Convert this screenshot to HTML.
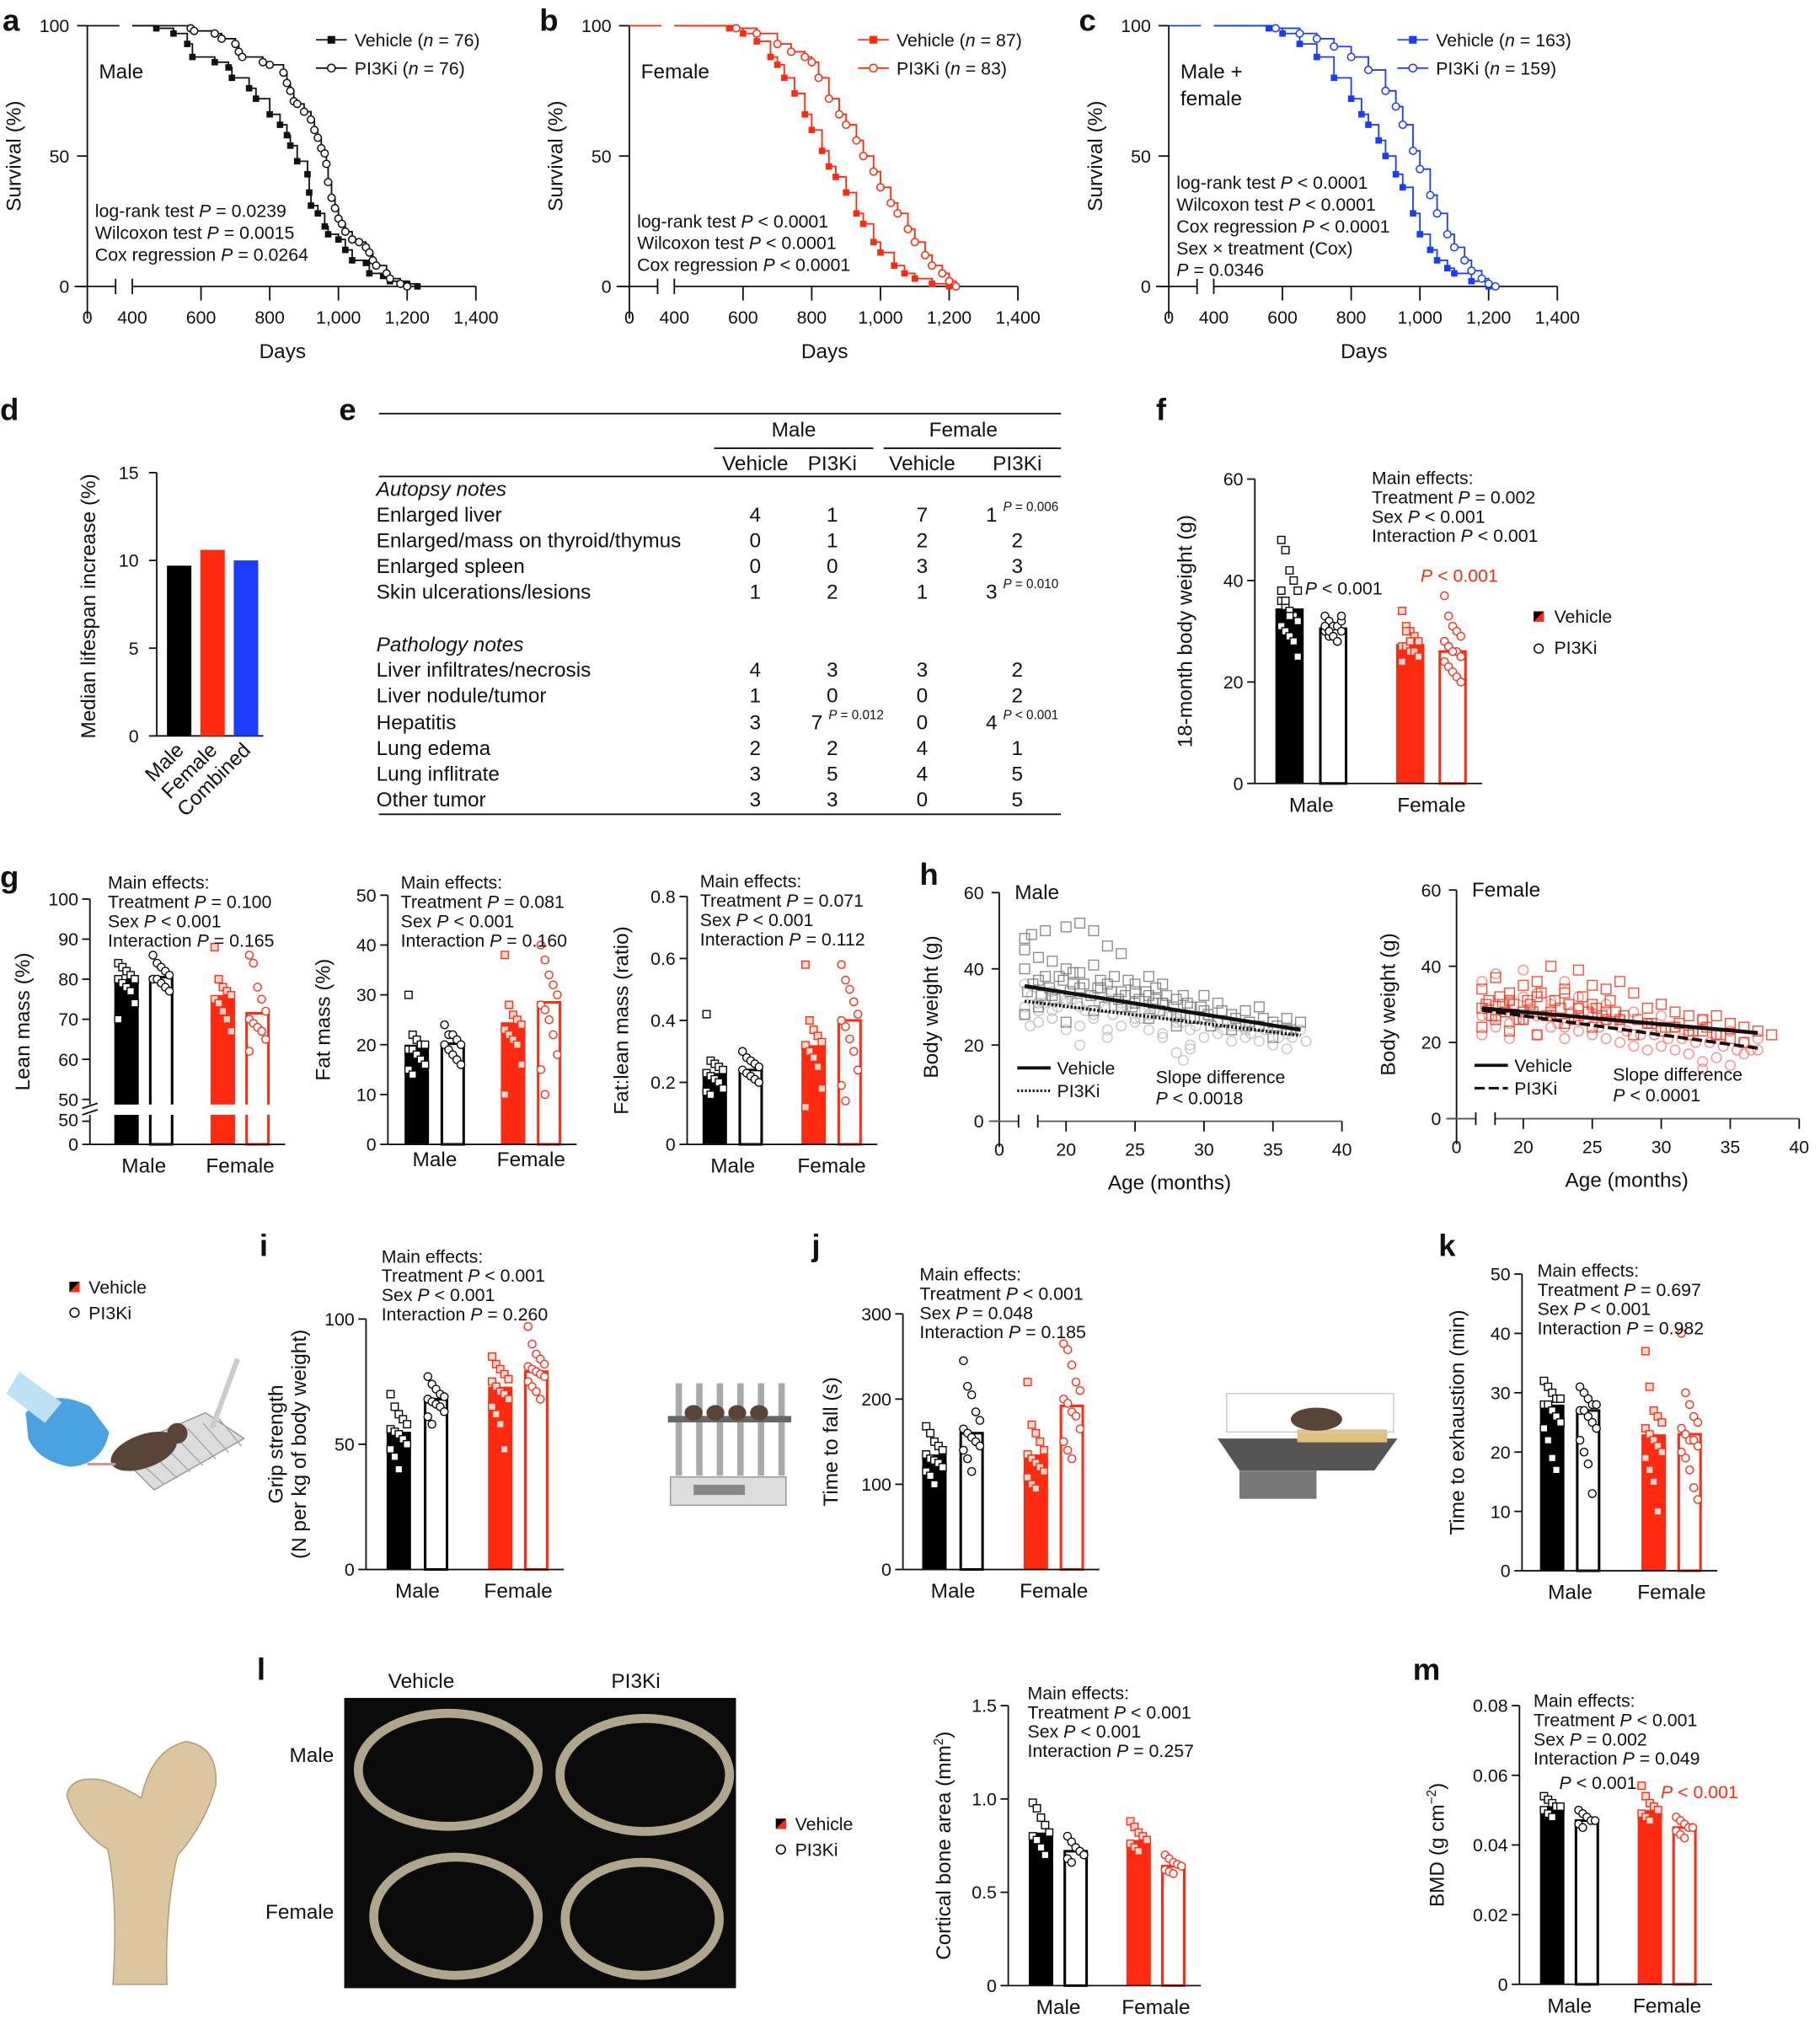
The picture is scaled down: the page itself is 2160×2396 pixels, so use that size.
<!DOCTYPE html>
<html><head><meta charset="utf-8"><style>
html,body{margin:0;padding:0;background:#fff}
svg{display:block;font-family:"Liberation Sans",sans-serif}
</style></head><body>
<svg id="fig" width="2160" height="2396" viewBox="0 0 1417 1572" preserveAspectRatio="none" xmlns="http://www.w3.org/2000/svg"></svg>
<script>
// ---------- DATA ----------
const maleVehDays=[400,470,520,560,575,640,680,690,740,760,800,830,850,860,880,910,915,920,940,960,970,1000,1020,1040,1080,1090,1130,1150,1200,1230];
const maleVehSurv=[100,99,97,93,88,86,84,80,76,72,66,62,58,54,48,43,36,31,28,23,20,18,14,10,9,5,4,2,1,0];
const malePiDays=[400,570,580,640,660,700,710,720,780,800,840,850,860,870,880,900,920,930,940,950,960,965,970,980,990,1000,1010,1020,1040,1060,1080,1090,1100,1110,1140,1150,1180,1200];
const malePiSurv=[100,99,98,97,95,93,90,88,86,85,82,78,75,71,70,67,64,60,57,53,51,47,40,34,30,26,24,21,18,17,15,13,10,8,5,3,1,0];
const femVehDays=[400,560,600,640,680,700,720,750,780,800,830,850,870,900,930,950,980,1000,1040,1070,1100,1150,1200];
const femVehSurv=[100,99,97,94,88,85,80,74,66,60,52,46,42,36,28,24,17,13,8,5,3,1,0];
const femPiDays=[400,580,640,700,740,780,800,820,850,880,900,930,950,980,1000,1030,1050,1080,1100,1130,1150,1180,1200,1220];
const femPiSurv=[100,99,97,93,90,88,86,80,72,66,62,56,50,44,38,32,28,22,17,12,8,5,2,0];
const allVehDays=[400,560,600,650,700,750,800,830,850,880,900,930,950,980,1000,1030,1050,1080,1100,1150,1200];
const allVehSurv=[100,99,97,93,88,80,72,66,62,56,50,43,38,28,20,14,10,7,5,2,0];
const allPiDays=[400,580,650,700,750,800,850,900,930,950,980,1000,1030,1050,1080,1100,1130,1150,1180,1200,1220];
const allPiSurv=[100,99,97,95,92,88,83,75,69,62,52,45,35,28,20,15,10,6,3,1,0];

const dCats=["Male","Female","Combined"];
const dVals=[9.7,10.6,10.0];

const fVals=[34.5,30.5,27.5,26.0];
const fPts=[[48,46,42,40,38,36,35,34,33,32,31,30,29,28,25,38,36,33],[33,32,31,31,30,30,29,29,28,32,31,30,29,28,33],[34,31,30,29,28,27,27,26,26,25,24,30,28],[37,33,31,30,29,28,27,26,26,25,24,23,22,21,20,28,27,26]];
const gLeanVals=[80,80.5,76,71.5];
const gLeanPts=[[84,83,82,81,80,80,79,78,77,74,70],[86,84,83,82,81,80,80,79,78,77],[88,80,78,77,76,75,74,72,70,67],[86,84,78,75,72,70,69,68,67,65,62]];
const gFatVals=[20,20.2,24.5,28.5];
const gFatPts=[[30,22,21,20,20,19,19,18,17,16,15,14],[24,22,22,21,20,20,19,18,17,16],[38,28,26,25,24,23,22,21,20,16,10],[40,37,34,32,30,28,27,25,22,18,15,10]];
const gRatVals=[0.23,0.24,0.32,0.40];
const gRatPts=[[0.42,0.27,0.26,0.25,0.24,0.23,0.22,0.21,0.20,0.18,0.17,0.16],[0.30,0.28,0.27,0.26,0.25,0.24,0.23,0.22,0.21,0.20],[0.58,0.40,0.37,0.35,0.33,0.32,0.30,0.28,0.25,0.18,0.12],[0.58,0.53,0.50,0.46,0.42,0.40,0.38,0.34,0.30,0.24,0.19,0.14]];
const iVals=[55,68,73,79];
const iPts=[[70,65,62,60,58,56,55,54,52,50,48,45,40],[77,74,72,70,69,68,67,66,65,63,61,58],[85,82,80,78,76,75,73,71,70,68,65,62,58,48],[97,90,86,84,82,81,80,79,78,77,75,73,71,68]];
const jVals=[135,160,135,192];
const jPts=[[168,160,150,145,140,135,130,128,125,120,115,110,100],[245,215,205,185,175,165,160,155,150,145,140,130,115],[220,170,160,150,140,135,130,125,120,115,108,100,95],[265,258,240,220,210,200,195,185,180,165,150,140,130]];
const kVals=[28,27,23,23];
const kPts=[[32,31,30,29,29,28,28,27,26,25,24,22,19,17],[31,30,29,28,28,27,27,26,25,24,22,20,18,13],[37,31,27,26,25,24,23,22,21,20,19,17,15,10],[40,30,28,26,25,24,23,22,22,21,20,19,17,14,12]];
const lVals=[0.82,0.72,0.78,0.64];
const lPts=[[0.98,0.95,0.90,0.86,0.82,0.80,0.78,0.74,0.70],[0.80,0.77,0.74,0.72,0.70,0.68,0.66],[0.88,0.85,0.82,0.80,0.78,0.76,0.74,0.72],[0.70,0.68,0.66,0.65,0.64,0.62,0.61,0.60]];
const mVals=[0.051,0.047,0.050,0.045];
const mPts=[[0.054,0.053,0.052,0.051,0.051,0.050,0.049,0.048],[0.050,0.049,0.048,0.047,0.047,0.046,0.045],[0.057,0.054,0.052,0.051,0.050,0.049,0.048,0.047],[0.048,0.047,0.046,0.045,0.045,0.044,0.043,0.042]];

const hMaleVehAge=[17,17,17,17.5,18,18,18.5,19,19.5,20,20,20.5,21,21,22,22,22.5,23,23.5,24,24,25,25,26,26,26.5,27,27,28,28,29,29,30,30,30.5,31,31,32,32,33,33,34,34,35,35,36,36,37,17,18,19,20,21,22,23,24,25,26,27,28,
 17.2,17.6,18.2,18.8,19.2,19.8,20.3,20.8,21.3,21.8,22.3,22.8,23.3,23.8,24.3,24.8,25.3,25.8,26.3,26.8,27.3,27.8,28.3,28.8,29.3,29.8,30.3,31.3,32.3,33.3,34.3,35.3,36.3,18.5,20.5,22.5,24.5,26.5,28.5];
const hMaleVehW=[48,45,40,49,43,37,50,42,38,51,40,36,52,39,50,41,37,46,38,44,34,36,31,38,33,35,31,36,28,32,27,30,29,33,25,31,26,28,24,29,25,30,25,26,22,27,24,26,28,30,33,26,35,29,36,30,34,27,31,25,
 34,36,33,35,32,37,34,31,36,33,35,30,34,32,33,30,32,34,31,29,33,30,28,31,27,30,28,29,27,26,27,25,24,38,39,35,37,32,33];
const hMalePiAge=[17,17,17.5,18,18,19,19,20,20,21,21,22,22,23,23,24,24,25,25,26,26,27,27,28,28,28.5,29,29,30,30,31,31,32,32,33,33,34,34,35,35,36,36,37,17,18,19,20,21,22,23,24,25,26,27,28,29,
 17.4,18.4,19.4,20.4,21.4,22.4,23.4,24.4,25.4,26.4,27.4,28.4,29.4,30.4,31.4,32.4,33.4,34.4,35.4,36.4,37.4];
const hMalePiW=[36,28,33,31,26,34,29,32,24,30,20,33,27,32,22,31,25,29,27,30,24,28,22,18,26,16,24,20,27,22,26,23,25,21,24,22,25,21,24,20,23,19,24,30,29,27,31,25,28,24,30,26,28,23,27,19,25,
 31,30,32,29,31,28,30,27,29,28,26,25,27,24,25,23,24,22,22,21,24];
const hFemVehAge=[17,17,17.5,18,18,18.5,19,19,20,20,20.5,21,21,22,22,23,23,24,24,25,25,26,26,27,27,28,28,29,29,30,30,31,31,32,32,33,33,34,34,35,35,36,36,37,38,17,18,19,20,21,22,23,24,25,26,
 17.3,17.7,18.3,18.7,19.3,19.7,20.3,20.7,21.3,21.7,22.3,22.7,23.3,23.7,24.3,24.7,25.3,25.7,26.3,26.7,27.3,28.3,29.3,30.3,31.3,32.3,33.3,34.3];
const hFemVehW=[34,24,31,37,27,30,33,23,35,26,30,36,22,40,28,33,25,39,27,35,24,34,28,36,26,33,22,29,25,30,23,28,24,27,22,26,23,27,22,25,21,24,20,23,22,29,26,31,28,32,27,34,29,30,26,
 30,27,32,28,30,26,31,28,33,27,31,29,30,26,32,28,29,27,31,28,27,26,25,24,25,23,24,22];
const hFemPiAge=[17,17,17.5,18,18,19,19,20,20,21,21,22,22,23,23,24,24,25,25,26,26,27,27,28,28,29,29,30,30,31,31,32,32,33,33,33,34,34,35,35,36,36,37,37,17,18,19,20,21,22,23,24,25,26,27,
 17.5,18.5,19.5,20.5,21.5,22.5,23.5,24.5,25.5,26.5,27.5,28.5,29.5,30.5,31.5,32.5,33.5,34.5,35.5,36.5];
const hFemPiW=[36,22,29,38,24,31,21,39,26,33,22,30,24,36,21,32,23,29,22,30,21,26,20,28,19,25,18,27,19,24,18,23,17,26,15,13,22,16,23,14,20,17,21,18,27,30,25,32,27,31,24,29,27,26,24,
 27,28,26,29,27,25,28,26,24,25,23,22,22,21,21,20,20,19,18,18];
const hMaleLineVeh=[35.5,24];
const hMaleLinePi=[31.5,22.5];
const hFemLineVeh=[29,22.5];
const hFemLinePi=[28.5,18.5];
const hLineAges=[17,37];

// ---------- HELPERS ----------
const NS="http://www.w3.org/2000/svg";
const svg=document.getElementById('fig');
function mk(tag,attrs,name,parent){
  const e=document.createElementNS(NS,tag);
  for(const k in attrs) e.setAttribute(k,attrs[k]);
  
  
  (parent||svg).appendChild(e);
  return e;
}
function T(x,y,s,name,o){
  o=o||{};
  const a={x:x,y:y,'font-size':o.fs||14,fill:o.fill||'#111','text-anchor':o.anchor||'start'};
  if(o.bold) a['font-weight']='bold';
  if(o.italic) a['font-style']='italic';
  if(o.rot!==undefined) a.transform='rotate('+o.rot+' '+x+' '+y+')';
  const e=mk('text',a,name,o.parent);
  e.innerHTML=s;
  return e;
}
function L(x1,y1,x2,y2,name,o){o=o||{};return mk('line',{x1:x1,y1:y1,x2:x2,y2:y2,stroke:o.stroke||'#111','stroke-width':o.w||1.2,'stroke-dasharray':o.dash||'none'},name,o.parent);}
const I='<tspan font-style="italic">P</tspan>';
const RED='#ff2a0f', BLUE='#1a3cff';

[['a',2,24],['b',420,24],['c',840,24],['d',0,327],['e',264,327],['f',900,327],['g',0,691],['h',716,689],['i',202,978],['j',632,978],['k',1120,978],['l',200,1308],['m',1100,1308]].forEach(p=>{
  T(p[1],p[2],p[0],'panel-label-'+p[0],{fs:24,bold:true});
});

// ---------- SURVIVAL ----------
function survival(ox,key,vehD,vehS,piD,piS,color,label,ann,annY,nV,nP){
  const x0=ox, xs=d=>ox+35+(d-400)*0.2675, y0=223, ys=s=>y0-s*2.03;
  const g=mk('g',{},'survival-chart-'+key);
  L(x0,ys(100),x0,y0+25,'y-axis',{parent:g});
  L(x0-10,y0,x0+22,y0,'x-axis-left',{parent:g});L(x0+22,y0-6,x0+22,y0+6,'axis-break-left',{parent:g});
  L(xs(400),y0,xs(1400),y0,'x-axis',{parent:g});L(xs(400),y0-6,xs(400),y0+6,'axis-break-right',{parent:g});
  [0,50,100].forEach(v=>{L(x0-8,ys(v),x0,ys(v),'y-tick',{parent:g});T(x0-14,ys(v)+5,v,'y-tick-label',{anchor:'end',parent:g,fs:14});});
  T(x0,y0+29,'0','x-tick-label',{anchor:'middle',parent:g});
  [400,600,800,1000,1200,1400].forEach(v=>{if(v>400)L(xs(v),y0,xs(v),y0+11,'x-tick',{parent:g});T(xs(v),y0+29,v>=1000?(v/1000|0)+','+String(v%1000).padStart(3,'0'):v,'x-tick-label',{anchor:'middle',parent:g});});
  T(xs(800)+10,y0+56,'Days','x-axis-title',{anchor:'middle',fs:16,parent:g});
  T(x0-52,ys(50),'Survival (%)','y-axis-title',{anchor:'middle',fs:16,rot:-90,parent:g});
  L(x0,ys(100),xs(400)-10,ys(100),'start-line',{parent:g,stroke:color});
  function curve(D,S,filled,nm){
    let d='M'+xs(D[0])+' '+ys(S[0]);
    for(let i=1;i<D.length;i++) d+=' H'+xs(D[i])+' V'+ys(S[i]);
    mk('path',{d:d,fill:'none',stroke:color,'stroke-width':1.2},nm+'-line',g);
    for(let i=1;i<D.length;i++){
      if(filled) mk('rect',{x:xs(D[i])-2.5,y:ys(S[i])-2.5,width:5,height:5,fill:color},nm+'-marker',g);
      else mk('circle',{cx:xs(D[i]),cy:ys(S[i]),r:2.8,fill:'#fff',stroke:color,'stroke-width':1},nm+'-marker',g);
    }
  }
  curve(vehD,vehS,true,'vehicle');curve(piD,piS,false,'pi3ki');
  const lx=x0+178;
  L(lx,31,lx+24,31,'legend-vehicle-line',{parent:g,stroke:color});mk('rect',{x:lx+9,y:28,width:6,height:6,fill:color},'legend-vehicle-marker',g);
  T(lx+30,36,'Vehicle (<tspan font-style="italic">n</tspan> = '+nV+')','legend-vehicle',{parent:g});
  L(lx,53,lx+24,53,'legend-pi3ki-line',{parent:g,stroke:color});mk('circle',{cx:lx+12,cy:53,r:3,fill:'#fff',stroke:color},'legend-pi3ki-marker',g);
  T(lx+30,58,'PI3Ki (<tspan font-style="italic">n</tspan> = '+nP+')','legend-pi3ki',{parent:g});
  label.forEach((s,i)=>T(x0+9,61+i*21,s,'group-label',{fs:16,parent:g}));
  ann.forEach((s,i)=>T(x0+6,annY+i*17,s,'stats-annotation',{parent:g}));
}
survival(68,'male',maleVehDays,maleVehSurv,malePiDays,malePiSurv,'#111',['Male'],['log-rank test '+I+' = 0.0239','Wilcoxon test '+I+' = 0.0015','Cox regression '+I+' = 0.0264'],169,76,76);
survival(490,'female',femVehDays,femVehSurv,femPiDays,femPiSurv,RED,['Female'],['log-rank test '+I+' &lt; 0.0001','Wilcoxon test '+I+' &lt; 0.0001','Cox regression '+I+' &lt; 0.0001'],177,87,83);
survival(910,'combined',allVehDays,allVehSurv,allPiDays,allPiSurv,BLUE,['Male +','female'],['log-rank test '+I+' &lt; 0.0001','Wilcoxon test '+I+' &lt; 0.0001','Cox regression '+I+' &lt; 0.0001','Sex × treatment (Cox)',I+' = 0.0346'],147,163,159);

// ---------- D ----------
(function(){
  const g=mk('g',{},'median-lifespan-chart');
  const ax=122,y0=573,ys=v=>y0-v*(205/15);
  L(ax,ys(15),ax,y0,'y-axis',{parent:g});L(ax,y0,205,y0,'x-axis',{parent:g});
  [0,5,10,15].forEach(v=>{L(ax-6,ys(v),ax,ys(v),'y-tick',{parent:g});T(ax-14,ys(v)+5,v,'y-tick-label',{anchor:'end',parent:g});});
  T(74,472,'Median lifespan increase (%)','y-axis-title',{anchor:'middle',fs:16,rot:-90,parent:g});
  const cols=['#000',RED,BLUE];
  dCats.forEach((c,i)=>{const x=130+i*26;mk('rect',{x:x,y:ys(dVals[i]),width:19,height:y0-ys(dVals[i]),fill:cols[i]},'bar-'+c.toLowerCase(),g);
    T(x+14,y0+12,c,'x-tick-label',{anchor:'end',rot:-45,fs:16,parent:g});});
})();

// ---------- E TABLE ----------
(function(){
  const g=mk('g',{},'pathology-table');
  L(295,322,826,322,'table-top-rule',{parent:g});
  T(618,340,'Male','header-male',{anchor:'middle',fs:16,parent:g});T(750,340,'Female','header-female',{anchor:'middle',fs:16,parent:g});
  L(556,349,680,349,'rule-male',{parent:g});L(688,349,826,349,'rule-female',{parent:g});
  const cx=[588,648,718,792];
  ['Vehicle','PI3Ki','Vehicle','PI3Ki'].forEach((s,i)=>T(cx[i],366,s,'column-header',{anchor:'middle',fs:16,parent:g}));
  L(295,371,826,371,'table-header-rule',{parent:g});
  const rows=[['<tspan font-style="italic">Autopsy notes</tspan>',null,386],['Enlarged liver',['4','1','7',''],406],['Enlarged/mass on thyroid/thymus',['0','1','2','2'],426],['Enlarged spleen',['0','0','3','3'],446],['Skin ulcerations/lesions',['1','2','1',''],466],
   ['<tspan font-style="italic">Pathology notes</tspan>',null,507],['Liver infiltrates/necrosis',['4','3','3','2'],527],['Liver nodule/tumor',['1','0','0','2'],547],['Hepatitis',['3','','0',''],568],['Lung edema',['2','2','4','1'],588],['Lung inflitrate',['3','5','4','5'],608],['Other tumor',['3','3','0','5'],628]];
  rows.forEach(r=>{T(293,r[2],r[0],'row-label',{fs:16,parent:g});if(r[1])r[1].forEach((v,i)=>{if(v)T(cx[i],r[2],v,'table-cell',{anchor:'middle',fs:16,parent:g});});});
  [[772,406,'1',I+' = 0.006'],[772,466,'3',I+' = 0.010'],[636,568,'7',I+' = 0.012'],[772,568,'4',I+' &lt; 0.001']].forEach(c=>{
    T(c[0],c[1],c[2],'table-cell',{anchor:'middle',fs:16,parent:g});
    T(c[0]+9,c[1]-8,c[3],'p-note',{fs:10,parent:g});
  });
  L(295,634,826,634,'table-bottom-rule',{parent:g});
})();

// ---------- BAR CHART HELPER ----------
function bars(key,ax,y0,ytop,vmax,ticks,xs,w,vals,pts,opt){
  opt=opt||{};
  const g=mk('g',{},key+'-chart');
  const ys=v=>y0-(v-(opt.vmin||0))/(vmax-(opt.vmin||0))*(y0-ytop);
  const yb=opt.base!==undefined?opt.base:y0;
  L(ax,ytop,ax,yb,'y-axis',{parent:g});
  ticks.forEach((v,i)=>{L(ax-6,ys(v),ax,ys(v),'y-tick',{parent:g});T(ax-9,ys(v)+5,opt.tl?opt.tl[i]:v,'y-tick-label',{anchor:'end',parent:g});});
  vals.forEach((v,i)=>{
    const c=i<2?'#000':RED, filled=i%2==0;
    const top=ys(v);
    mk('rect',{x:xs[i]+(filled?0:1),y:top,width:w-(filled?0:2),height:yb-top,fill:filled?c:'#fff',stroke:c,'stroke-width':filled?0:2},'bar-'+(i<2?'male':'female')+'-'+(filled?'vehicle':'pi3ki'),g);
    pts[i].forEach((p,j)=>{
      const px=xs[i]+w/2+((j%5)-2)*3.2, py=ys(p);
      const pc=i<2?'#000':RED;
      if(filled) mk('rect',{x:px-2.8,y:py-2.8,width:5.6,height:5.6,fill:i<2?'#fff':'#ffd9d2',stroke:pc,'stroke-width':0.9},'data-point',g);
      else mk('circle',{cx:px,cy:py,r:3,fill:'#fff',stroke:pc,'stroke-width':0.9},'data-point',g);
    });
  });
  L(ax,yb,xs[3]+w+12,yb,'x-axis',{parent:g});
  T((xs[0]+xs[1]+w)/2,yb+(opt.labY||22),'Male','x-tick-label-male',{anchor:'middle',fs:16,parent:g});
  T((xs[2]+xs[3]+w)/2,yb+(opt.labY||22),'Female','x-tick-label-female',{anchor:'middle',fs:16,parent:g});
  if(opt.ytitle) opt.ytitle.forEach((s,i)=>T(opt.tx+i*18,(ytop+yb)/2,s,'y-axis-title',{anchor:'middle',fs:16,rot:-90,parent:g}));
  if(opt.ann) opt.ann.forEach((s,i)=>T(opt.annX,opt.annY+i*15,s,'main-effects-annotation',{parent:g}));
  return {g:g,ys:ys};
}

// F
bars('body-weight',977,610,373,60,[0,20,40,60],[993,1027,1087,1120],22,fVals,fPts,{ytitle:['18-month body weight (g)'],tx:928,annX:1068,annY:377,ann:['Main effects:','Treatment '+I+' = 0.002','Sex '+I+' &lt; 0.001','Interaction '+I+' &lt; 0.001']});
T(1016,463,I+' &lt; 0.001','p-male',{});T(1106,453,I+' &lt; 0.001','p-female',{fill:RED});
mk('rect',{x:1194,y:476,width:8,height:8,fill:'#000'},'legend-vehicle-marker');mk('polygon',{points:'1202,476 1202,484 1194,484',fill:RED},'legend-vehicle-marker-red');
T(1210,485,'Vehicle','legend-vehicle',{});mk('circle',{cx:1198,cy:505,r:3.5,fill:'#fff',stroke:'#000'},'legend-pi3ki-marker');T(1210,509,'PI3Ki','legend-pi3ki',{});

// G
(function(){
  bars('lean-mass',70,856,700,100,[50,60,70,80,90,100],[89,116,164,191],19,gLeanVals,gLeanPts,{vmin:50,base:891,ytitle:['Lean mass (%)'],tx:23,annX:84,annY:692,ann:['Main effects:','Treatment '+I+' = 0.100','Sex '+I+' &lt; 0.001','Interaction '+I+' = 0.165'],labY:22});
  mk('rect',{x:60,y:860,width:160,height:8,fill:'#fff'},'axis-break-gap');
  L(64,863,76,859,'break-mark',{});L(64,868,76,864,'break-mark',{});
  T(61,877,'50','y-tick-label',{anchor:'end'});T(61,896,'0','y-tick-label',{anchor:'end'});
  L(64,873,70,873,'y-tick',{});L(64,891,70,891,'y-tick',{});
})();
bars('fat-mass',302,891,697,50,[0,10,20,30,40,50],[315,343,390,418],19,gFatVals,gFatPts,{ytitle:['Fat mass (%)'],tx:257,annX:312,annY:692,ann:['Main effects:','Treatment '+I+' = 0.081','Sex '+I+' &lt; 0.001','Interaction '+I+' = 0.160'],labY:17});
bars('fat-lean-ratio',535,891,698,0.8,[0,0.2,0.4,0.6,0.8],[547,575,624,652],19,gRatVals,gRatPts,{ytitle:['Fat:lean mass (ratio)'],tx:489,annX:545,annY:691,ann:['Main effects:','Treatment '+I+' = 0.071','Sex '+I+' &lt; 0.001','Interaction '+I+' = 0.112'],labY:22});

// ---------- H ----------
function hplot(key,ax,y0,ytop,col,vehA,vehW,piA,piW,lv,lp,label,pv,dash){
  const g=mk('g',{},key+'-weight-chart');
  const xs=a=>ax+52+(a-20)*10.74, ys=w=>y0-w*(y0-ytop)/60;
  L(ax,ytop,ax,y0+20,'y-axis',{parent:g});
  [0,20,40,60].forEach(v=>{L(ax-6,ys(v),ax,ys(v),'y-tick',{parent:g});T(ax-12,ys(v)+5,v,'y-tick-label',{anchor:'end',parent:g});});
  L(ax-8,y0,ax+15,y0,'x-axis-left',{parent:g,stroke:'#555'});L(ax+15,y0-5,ax+15,y0+5,'break',{parent:g});
  L(ax+30,y0,xs(40),y0,'x-axis',{parent:g,stroke:'#555'});L(ax+30,y0-5,ax+30,y0+5,'break',{parent:g});
  T(ax,y0+27,'0','x-tick-label',{anchor:'middle',parent:g});
  [20,25,30,35,40].forEach(v=>{L(xs(v),y0,xs(v),y0+8,'x-tick',{parent:g});T(xs(v),y0+27,v,'x-tick-label',{anchor:'middle',parent:g});});
  T(xs(27.5),y0+53,'Age (months)','x-axis-title',{anchor:'middle',fs:16,parent:g});
  T(ax-48,(ytop+y0)/2,'Body weight (g)','y-axis-title',{anchor:'middle',fs:16,rot:-90,parent:g});
  T(ax+12,ytop+5,label,'group-label',{fs:16,parent:g});
  const c1=col[0],c2=col[1];
  piA.forEach((a,i)=>mk('circle',{cx:xs(a),cy:ys(piW[i]),r:3.8,fill:'none',stroke:c2,'stroke-width':0.9,opacity:0.85},'pi3ki-point',g));
  vehA.forEach((a,i)=>mk('rect',{x:xs(a)-3.8,y:ys(vehW[i])-3.8,width:7.6,height:7.6,fill:'none',stroke:c1,'stroke-width':0.9,opacity:0.85},'vehicle-point',g));
  L(xs(hLineAges[0]),ys(lv[0]),xs(hLineAges[1]),ys(lv[1]),'vehicle-fit-line',{parent:g,w:3});
  L(xs(hLineAges[0]),ys(lp[0]),xs(hLineAges[1]),ys(lp[1]),'pi3ki-fit-line',{parent:g,w:2.5,dash:dash});
  L(ax+14,ys(14),ax+40,ys(14),'legend-vehicle-line',{parent:g,w:2.5});T(ax+45,ys(14)+5,'Vehicle','legend-vehicle',{parent:g});
  L(ax+14,ys(8),ax+40,ys(8),'legend-pi3ki-line',{parent:g,w:2,dash:dash});T(ax+45,ys(8)+5,'PI3Ki','legend-pi3ki',{parent:g});
  T(xs(26.5),ys(10),'Slope difference','slope-annotation',{parent:g});T(xs(26.5),ys(4.5),I+' &lt; '+pv,'slope-p',{parent:g});
}
hplot('male',778,873,695,['#777','#bbb'],hMaleVehAge,hMaleVehW,hMalePiAge,hMalePiW,hMaleLineVeh,hMaleLinePi,'Male','0.0018','1.5,1.5');
hplot('female',1134,871,693,[RED,'#f77'],hFemVehAge,hFemVehW,hFemPiAge,hFemPiW,hFemLineVeh,hFemLinePi,'Female','0.0001','8,3');

// ---------- I J K ----------
mk('rect',{x:54,y:998,width:8,height:8,fill:'#000'},'legend-vehicle-marker');mk('polygon',{points:'62,998 62,1006 54,1006',fill:RED},'legend-vehicle-red');
T(69,1007,'Vehicle','legend-vehicle',{});mk('circle',{cx:58,cy:1022,r:3.5,fill:'#fff',stroke:'#000'},'legend-pi3ki-marker');T(69,1027,'PI3Ki','legend-pi3ki',{});
bars('grip-strength',285,1222,1027,100,[0,50,100],[301,330,380,408],19,iVals,iPts,{ytitle:['Grip strength','(N per kg of body weight)'],tx:220,annX:297,annY:983,ann:['Main effects:','Treatment '+I+' &lt; 0.001','Sex '+I+' &lt; 0.001','Interaction '+I+' = 0.260']});
bars('rotarod',703,1222,1023,300,[0,100,200,300],[718,747,797,825],19,jVals,jPts,{ytitle:['Time to fall (s)'],tx:652,annX:716,annY:997,ann:['Main effects:','Treatment '+I+' &lt; 0.001','Sex '+I+' = 0.048','Interaction '+I+' = 0.185']});
bars('treadmill',1185,1223,992,50,[0,10,20,30,40,50],[1199,1227,1278,1306],19,kVals,kPts,{ytitle:['Time to exhaustion (min)'],tx:1140,annX:1197,annY:994,ann:['Main effects:','Treatment '+I+' = 0.697','Sex '+I+' &lt; 0.001','Interaction '+I+' = 0.982']});

(function(){
  const g=mk('g',{},'grip-illustration');
  mk('polygon',{points:'90,1130 160,1100 190,1120 120,1160',fill:'#ddd',stroke:'#999'},'grid',g);
  for(let k=0;k<7;k++) L(98+k*12,1128-k*4,128+k*10,1156-k*5,'grid-bar',{parent:g,stroke:'#aaa',w:1});
  L(165,1112,185,1058,'meter-rod',{parent:g,stroke:'#ccc',w:4});
  mk('path',{d:'M20,1100 Q40,1080 70,1095 L85,1115 Q80,1140 55,1142 Q30,1138 22,1120 Z',fill:'#4aa3e0'},'gloved-hand',g);
  mk('path',{d:'M15,1068 L48,1092 L35,1108 L5,1085 Z',fill:'#bde0f5'},'sleeve',g);
  mk('ellipse',{cx:112,cy:1130,rx:27,ry:13,fill:'#5a4438',transform:'rotate(-20 112 1130)'},'mouse-body',g);
  mk('circle',{cx:138,cy:1116,r:8,fill:'#5a4438'},'mouse-head',g);
  L(90,1140,68,1140,'mouse-tail',{parent:g,stroke:'#c99',w:2});
  const r=mk('g',{},'rotarod-illustration');
  mk('rect',{x:522,y:1150,width:90,height:22,fill:'#ddd',stroke:'#999'},'base',r);
  mk('rect',{x:540,y:1156,width:40,height:8,fill:'#888'},'display',r);
  for(let k=0;k<6;k++) mk('rect',{x:526+k*16,y:1077,width:5,height:72,fill:'#aaa'},'divider',r);
  L(520,1105,616,1105,'rod',{parent:r,stroke:'#666',w:5});
  for(let k=0;k<4;k++) mk('ellipse',{cx:540+k*17,cy:1100,rx:7,ry:6,fill:'#5a4438'},'mouse',r);
  const t=mk('g',{},'treadmill-illustration');
  mk('polygon',{points:'948,1120 1088,1120 1070,1145 965,1145',fill:'#555'},'treadmill-base',t);
  mk('rect',{x:965,y:1145,width:60,height:22,fill:'#777'},'motor',t);
  mk('rect',{x:1010,y:1113,width:70,height:10,fill:'#e0c07a'},'belt',t);
  mk('rect',{x:955,y:1085,width:130,height:30,fill:'none',stroke:'#ccc'},'enclosure',t);
  mk('ellipse',{cx:1025,cy:1105,rx:20,ry:9,fill:'#5a4438'},'mouse',t);
})();

// ---------- L ----------
(function(){
  const g=mk('g',{},'bone-illustration');
  mk('path',{d:'M88,1545 Q92,1480 84,1440 Q60,1425 52,1398 Q55,1382 80,1386 Q98,1392 110,1400 Q118,1362 145,1356 Q170,1360 168,1390 Q160,1420 138,1445 Q128,1490 130,1545 Z',fill:'#dcc5a1',stroke:'#b59b74'},'femur',g);
  mk('rect',{x:268,y:1322,width:305,height:226,fill:'#0b0b0b'},'microct-image');
  [[349,1378,'male-vehicle',70,44],[502,1382,'male-pi3ki',66,44],[355,1492,'female-vehicle',64,46],[500,1494,'female-pi3ki',60,44]].forEach(o=>{
    mk('ellipse',{cx:o[0],cy:o[1],rx:o[3],ry:o[4],fill:'none',stroke:'#b0a68e','stroke-width':7},'bone-cross-section-'+o[2]);
  });
  T(328,1314,'Vehicle','column-label',{anchor:'middle',fs:16});T(495,1314,'PI3Ki','column-label',{anchor:'middle',fs:16});
  T(260,1372,'Male','row-label',{anchor:'end',fs:16});T(260,1494,'Female','row-label',{anchor:'end',fs:16});
  mk('rect',{x:604,y:1416,width:8,height:8,fill:'#000'},'legend-vehicle-marker');mk('polygon',{points:'612,1416 612,1424 604,1424',fill:RED},'legend-vehicle-red');
  T(619,1425,'Vehicle','legend-vehicle',{});mk('circle',{cx:608,cy:1440,r:3.5,fill:'#fff',stroke:'#000'},'legend-pi3ki-marker');T(619,1445,'PI3Ki','legend-pi3ki',{});
})();
bars('cortical-bone',785,1546,1328,1.5,[0,0.5,1.0,1.5],[801,828,877,904],19,lVals,lPts,{tl:['0','0.5','1.0','1.5'],ytitle:['Cortical bone area (mm<tspan dy="-6" font-size="10">2</tspan><tspan dy="6">)</tspan>'],tx:740,annX:800,annY:1323,ann:['Main effects:','Treatment '+I+' &lt; 0.001','Sex '+I+' &lt; 0.001','Interaction '+I+' = 0.257']});
bars('bmd',1183,1545,1328,0.08,[0,0.02,0.04,0.06,0.08],[1199,1226,1275,1302],19,mVals,mPts,{tl:['0','0.02','0.04','0.06','0.08'],ytitle:['BMD (g cm<tspan dy="-6" font-size="10">−2</tspan><tspan dy="6">)</tspan>'],tx:1124,annX:1194,annY:1329,ann:['Main effects:','Treatment '+I+' &lt; 0.001','Sex '+I+' = 0.002','Interaction '+I+' = 0.049']});
T(1214,1393,I+' &lt; 0.001','p-male',{});T(1293,1400,I+' &lt; 0.001','p-female',{fill:RED});
</script>
</body></html>
